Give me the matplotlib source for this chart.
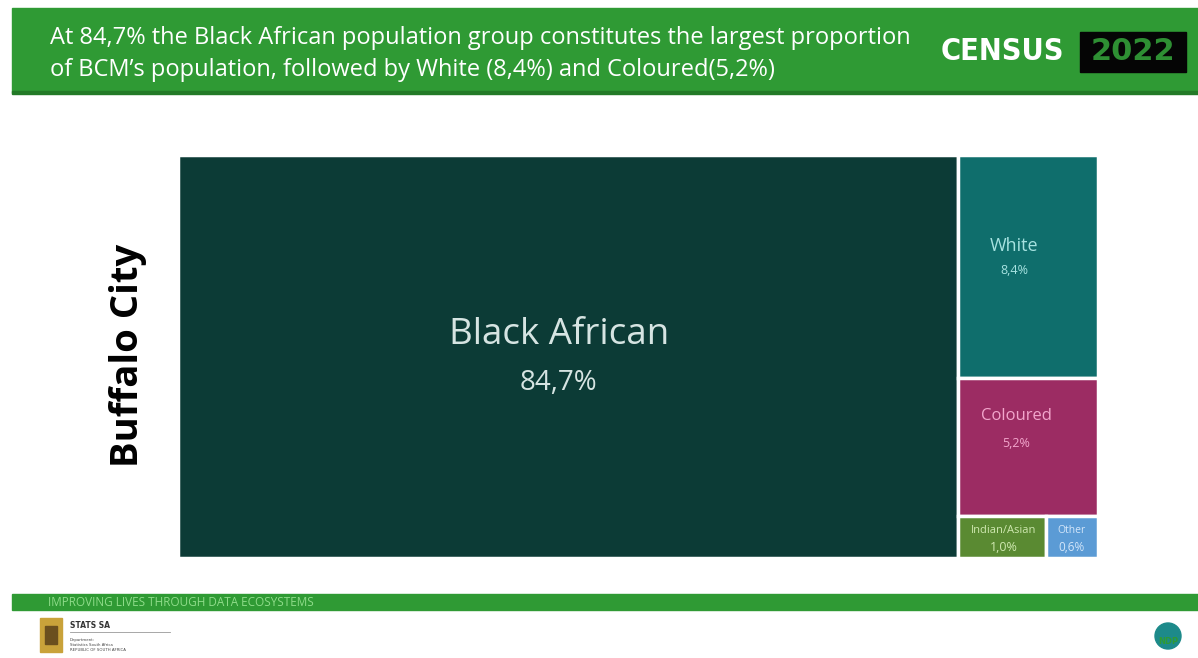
import matplotlib.pyplot as plt
from matplotlib.patches import Rectangle, Circle

# population group shares, Buffalo City (Census 2022)
groups = ["Black African", "White", "Coloured", "Indian/Asian", "Other"]
shares = [84.7, 8.4, 5.2, 1.0, 0.6]
share_labels = ["84,7%", "8,4%", "5,2%", "1,0%", "0,6%"]

box_colors = ["#0c3b36", "#0f6e6c", "#9c2c63", "#5a8a32", "#5b9bd5"]
text_colors = ["#d6e4e2", "#a6e2e0", "#f2a6cc", "#cfe8b0", "#d3e6fa"]
name_sizes = [26.5, 13, 12, 8, 7.5]
value_sizes = [20, 9, 9, 9, 8.5]
# placement of name / value inside each box (fraction of box width / height)
label_x = [0.488, 0.40, 0.415, 0.52, 0.49]
name_y = [0.447, 0.41, 0.28, 0.35, 0.35]
value_y = [0.566, 0.52, 0.48, 0.76, 0.76]

GREEN = "#2f9a34"


def slice_layout(values, x, y, w, h):
    # cut off the first item along the longer side, then recurse on the rest
    rects = []
    for i, v in enumerate(values):
        frac = v / sum(values[i:])
        if w >= h:
            rects.append((x, y, w * frac, h))
            x, w = x + w * frac, w - w * frac
        else:
            rects.append((x, y, w, h * frac))
            y, h = y + h * frac, h - h * frac
    return rects


fig = plt.figure(figsize=(11.98, 6.58), dpi=100)
fig.patch.set_facecolor("white")

# page decorations in pixel coordinates
bg = fig.add_axes([0, 0, 1, 1])
bg.set_xlim(0, 1198)
bg.set_ylim(658, 0)
bg.axis("off")

bg.add_patch(Rectangle((12, 8), 1186, 85, color=GREEN, zorder=1))
bg.add_patch(Rectangle((12, 91), 1186, 3, color="#237a27", zorder=1))
bg.text(50, 38, "At 84,7% the Black African population group constitutes the largest proportion",
        color="white", fontsize=17, family="Open Sans", va="center", ha="left")
bg.text(50, 70, "of BCM\u2019s population, followed by White (8,4%) and Coloured(5,2%)",
        color="white", fontsize=17, family="Open Sans", va="center", ha="left")
bg.text(1002, 52, "CENSUS", color="white", fontsize=22, fontweight="heavy",
        family="DejaVu Sans", fontstretch="condensed", ha="center", va="center")
bg.add_patch(Rectangle((1080, 32), 106, 40, color="#050505", zorder=2))
bg.text(1133, 52, "2022", color="#2e8f33", fontsize=22, fontweight="heavy",
        family="DejaVu Sans", ha="center", va="center", zorder=3)

bg.text(128, 355, "Buffalo City", rotation=90, fontsize=27.5, fontweight="bold",
        family="Open Sans", ha="center", va="center", color="black")

bg.add_patch(Rectangle((12, 594), 1186, 16, color=GREEN, zorder=1))
bg.text(48, 603, "IMPROVING LIVES THROUGH DATA ECOSYSTEMS", color="#8fdc8a",
        fontsize=8.5, family="Open Sans", va="center", ha="left")

# stats sa emblem and name
bg.add_patch(Rectangle((40, 618), 22, 34, color="#c9a23a", zorder=1))
bg.add_patch(Rectangle((45, 626), 12, 18, color="#6b4f1e", zorder=2))
bg.text(70, 625, "STATS SA", fontsize=5.5, fontweight="bold", color="#333333",
        family="DejaVu Sans", va="center")
bg.plot([70, 170], [632, 632], color="#999999", lw=0.6)
bg.text(70, 638, "Department:\nStatistics South Africa\nREPUBLIC OF SOUTH AFRICA",
        fontsize=2.8, color="#444444", family="DejaVu Sans", va="top", linespacing=1.3)

# ndp badge
bg.add_patch(Circle((1168, 636), 13, color="#1d8a8a", zorder=1))
bg.text(1168, 642, "NDP", fontsize=6, fontweight="bold", color="#2f9a34",
        ha="center", va="center", family="DejaVu Sans", zorder=3)

# treemap
x0, x1, y0, y1 = 178, 1098, 155, 558
ax = fig.add_axes([x0 / 1198, 1 - y1 / 658, (x1 - x0) / 1198, (y1 - y0) / 658])
W, H = x1 - x0, y1 - y0
ax.set_xlim(0, W)
ax.set_ylim(H, 0)
ax.axis("off")

rects = slice_layout(shares, 0, 0, W, H)
for i, (rx, ry, rw, rh) in enumerate(rects):
    ax.add_patch(Rectangle((rx, ry), rw, rh, facecolor=box_colors[i],
                           edgecolor="white", lw=2.5))
    cx = rx + rw * label_x[i]
    ax.text(cx, ry + rh * name_y[i], groups[i], color=text_colors[i],
            fontsize=name_sizes[i], family="Open Sans", ha="center", va="center")
    ax.text(cx, ry + rh * value_y[i], share_labels[i], color=text_colors[i],
            fontsize=value_sizes[i], family="Open Sans", ha="center", va="center")

fig.savefig("out.png", dpi=100)
